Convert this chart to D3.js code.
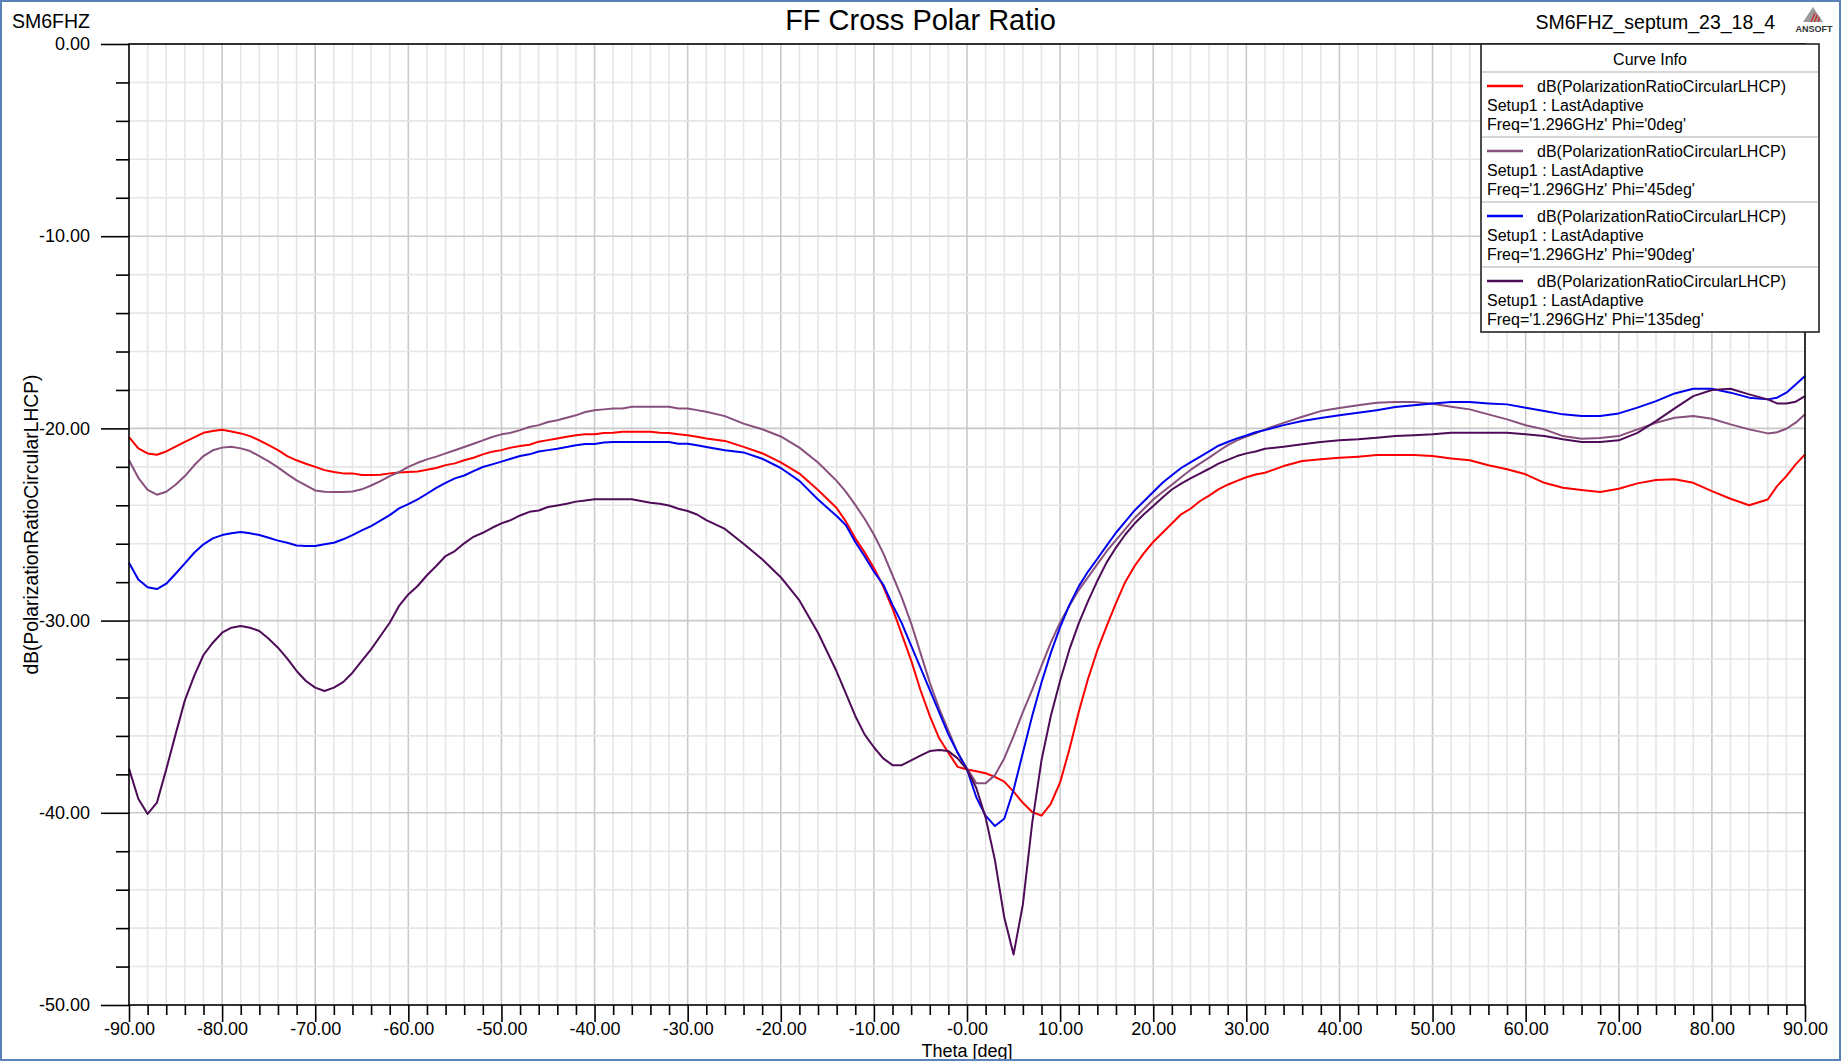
<!DOCTYPE html>
<html>
<head>
<meta charset="utf-8">
<script src="https://cdn.jsdelivr.net/npm/d3@7"></script>
<style>
  html, body { margin: 0; padding: 0; background: #ffffff; }
  svg { display: block; font-family: "Liberation Sans", Arial, sans-serif; }
</style>
</head>
<body>
<svg id="chart" width="1841" height="1061"></svg>
<script>
// ---------------- data ----------------
const chartTitle = "FF Cross Polar Ratio";
const leftNote = "SM6FHZ";
const rightNote = "SM6FHZ_septum_23_18_4";
const xAxisTitle = "Theta [deg]";
const yAxisTitle = "dB(PolarizationRatioCircularLHCP)";

const xTickValues = [-90, -80, -70, -60, -50, -40, -30, -20, -10, 0, 10, 20, 30, 40, 50, 60, 70, 80, 90];
const xTickLabels = ["-90.00", "-80.00", "-70.00", "-60.00", "-50.00", "-40.00", "-30.00", "-20.00", "-10.00", "-0.00",
                     "10.00", "20.00", "30.00", "40.00", "50.00", "60.00", "70.00", "80.00", "90.00"];
const yTickValues = [0, -10, -20, -30, -40, -50];
const yTickLabels = ["0.00", "-10.00", "-20.00", "-30.00", "-40.00", "-50.00"];

const thetaDeg = [
  -90,-89,-88,-87,-86,-85,-84,-83,-82,-81,
  -80,-79,-78,-77,-76,-75,-74,-73,-72,-71,
  -70,-69,-68,-67,-66,-65,-64,-63,-62,-61,
  -60,-59,-58,-57,-56,-55,-54,-53,-52,-51,
  -50,-49,-48,-47,-46,-45,-44,-43,-42,-41,
  -40,-39,-38,-37,-36,-35,-34,-33,-32,-31,
  -30,-29,-28,
  -26,-24,-22,-20,-18,-16,-14,
  -13,-12,-11,-10,-9,-8,-7,-6,-5,-4,
  -3,-2,-1,0,1,2,3,4,5,6,
  7,8,9,10,11,12,13,14,15,16,
  17,18,19,20,21,22,23,24,25,26,
  27,28,29,30,31,
  32,34,36,38,40,42,44,46,48,50,
  52,54,56,58,60,62,64,66,68,70,
  72,74,76,78,80,82,84,86,
  87,88,89,90
];

const phi0 = [
  -20.45,-21.04,-21.30,-21.37,-21.20,-20.95,-20.70,-20.47,-20.23,-20.14,
  -20.07,-20.16,-20.26,-20.40,-20.62,-20.87,-21.13,-21.44,-21.66,-21.84,
  -22.00,-22.17,-22.27,-22.34,-22.34,-22.43,-22.43,-22.41,-22.34,-22.30,
  -22.27,-22.24,-22.15,-22.06,-21.91,-21.82,-21.66,-21.53,-21.35,-21.21,
  -21.13,-21.00,-20.92,-20.85,-20.69,-20.61,-20.52,-20.43,-20.36,-20.31,
  -20.31,-20.24,-20.23,-20.17,-20.17,-20.17,-20.17,-20.23,-20.24,-20.31,
  -20.36,-20.43,-20.52,
  -20.65,-20.96,-21.29,-21.77,-22.35,-23.21,-24.14,
  -24.85,-25.72,-26.45,-27.26,-28.22,-29.37,-30.72,-32.07,-33.61,-34.96,
  -36.11,-36.88,-37.61,-37.75,-37.84,-37.94,-38.13,-38.38,-38.90,-39.48,
  -39.96,-40.15,-39.53,-38.42,-36.69,-34.76,-33.03,-31.54,-30.29,-29.09,
  -27.99,-27.16,-26.49,-25.91,-25.43,-24.95,-24.47,-24.18,-23.79,-23.50,
  -23.17,-22.93,-22.73,-22.54,-22.40,
  -22.31,-21.96,-21.70,-21.61,-21.53,-21.47,-21.39,-21.39,-21.39,-21.44,
  -21.56,-21.66,-21.92,-22.13,-22.39,-22.83,-23.09,-23.21,-23.31,-23.14,
  -22.86,-22.69,-22.65,-22.83,-23.26,-23.66,-24.00,-23.70,
  -23.00,-22.48,-21.87,-21.35
];

const phi45 = [
  -21.66,-22.57,-23.20,-23.45,-23.30,-22.93,-22.48,-21.92,-21.44,-21.14,
  -21.00,-20.95,-21.04,-21.18,-21.44,-21.72,-22.03,-22.38,-22.70,-22.97,
  -23.23,-23.30,-23.31,-23.31,-23.28,-23.17,-22.97,-22.74,-22.48,-22.27,
  -22.00,-21.79,-21.61,-21.47,-21.30,-21.14,-20.97,-20.80,-20.62,-20.45,
  -20.31,-20.23,-20.09,-19.93,-19.83,-19.67,-19.58,-19.45,-19.32,-19.15,
  -19.06,-19.01,-18.96,-18.96,-18.87,-18.87,-18.87,-18.87,-18.87,-18.96,
  -18.96,-19.05,-19.13,
  -19.36,-19.75,-20.04,-20.42,-21.00,-21.77,-22.73,
  -23.30,-23.98,-24.70,-25.52,-26.49,-27.64,-28.80,-30.14,-31.68,-33.22,
  -34.57,-35.73,-36.88,-37.69,-38.46,-38.46,-38.04,-37.17,-36.01,-34.76,
  -33.61,-32.36,-31.15,-30.10,-29.23,-28.41,-27.74,-27.06,-26.39,-25.81,
  -25.24,-24.66,-24.18,-23.70,-23.31,-22.93,-22.54,-22.16,-21.83,-21.52,
  -21.19,-20.87,-20.62,-20.42,-20.25,
  -20.05,-19.71,-19.39,-19.10,-18.94,-18.80,-18.66,-18.63,-18.63,-18.72,
  -18.87,-19.01,-19.27,-19.53,-19.84,-20.05,-20.40,-20.54,-20.50,-20.40,
  -20.05,-19.71,-19.45,-19.36,-19.50,-19.79,-20.05,-20.26,
  -20.20,-20.02,-19.70,-19.27
];

const phi90 = [
  -26.99,-27.86,-28.27,-28.36,-28.08,-27.56,-27.02,-26.47,-26.03,-25.72,
  -25.55,-25.46,-25.39,-25.46,-25.55,-25.69,-25.84,-25.95,-26.09,-26.12,
  -26.12,-26.03,-25.95,-25.77,-25.55,-25.31,-25.08,-24.80,-24.51,-24.16,
  -23.94,-23.69,-23.40,-23.09,-22.83,-22.60,-22.45,-22.22,-22.01,-21.87,
  -21.73,-21.58,-21.44,-21.35,-21.20,-21.13,-21.06,-20.97,-20.88,-20.81,
  -20.81,-20.73,-20.71,-20.71,-20.71,-20.71,-20.71,-20.71,-20.71,-20.80,
  -20.80,-20.88,-20.97,
  -21.14,-21.25,-21.58,-22.06,-22.73,-23.70,-24.56,
  -25.04,-25.91,-26.65,-27.45,-28.12,-29.18,-30.14,-31.30,-32.45,-33.61,
  -34.76,-35.92,-36.88,-37.75,-39.19,-40.15,-40.69,-40.31,-38.81,-36.88,
  -34.96,-33.22,-31.68,-30.34,-29.18,-28.22,-27.45,-26.78,-26.10,-25.43,
  -24.85,-24.27,-23.79,-23.31,-22.83,-22.44,-22.06,-21.77,-21.48,-21.19,
  -20.90,-20.71,-20.52,-20.37,-20.20,
  -20.09,-19.83,-19.62,-19.46,-19.32,-19.19,-19.05,-18.89,-18.79,-18.70,
  -18.63,-18.63,-18.70,-18.75,-18.92,-19.10,-19.27,-19.36,-19.36,-19.22,
  -18.92,-18.58,-18.18,-17.94,-17.94,-18.14,-18.40,-18.49,
  -18.40,-18.14,-17.71,-17.28
];

const phi135 = [
  -37.70,-39.27,-40.06,-39.47,-37.74,-35.92,-34.15,-32.88,-31.79,-31.15,
  -30.63,-30.37,-30.28,-30.37,-30.54,-30.94,-31.41,-31.98,-32.62,-33.14,
  -33.49,-33.66,-33.49,-33.20,-32.71,-32.10,-31.50,-30.80,-30.11,-29.24,
  -28.64,-28.20,-27.64,-27.16,-26.64,-26.38,-25.98,-25.64,-25.43,-25.17,
  -24.94,-24.77,-24.53,-24.34,-24.27,-24.09,-24.01,-23.92,-23.81,-23.75,
  -23.69,-23.69,-23.69,-23.69,-23.69,-23.78,-23.87,-23.92,-24.01,-24.18,
  -24.30,-24.48,-24.77,
  -25.23,-26.00,-26.81,-27.74,-28.95,-30.63,-32.65,
  -33.80,-34.96,-35.92,-36.59,-37.17,-37.52,-37.52,-37.27,-37.03,-36.79,
  -36.73,-36.79,-37.17,-37.75,-38.71,-40.25,-42.46,-45.44,-47.37,-44.77,
  -40.54,-37.27,-34.96,-33.13,-31.50,-30.14,-28.99,-27.93,-26.97,-26.20,
  -25.52,-24.95,-24.47,-24.04,-23.60,-23.18,-22.87,-22.60,-22.35,-22.10,
  -21.83,-21.64,-21.44,-21.30,-21.20,
  -21.06,-20.95,-20.83,-20.71,-20.62,-20.57,-20.49,-20.40,-20.35,-20.31,
  -20.23,-20.23,-20.23,-20.23,-20.31,-20.40,-20.57,-20.71,-20.71,-20.62,
  -20.23,-19.62,-18.96,-18.32,-18.00,-17.94,-18.23,-18.49,
  -18.70,-18.70,-18.61,-18.32
];

const seriesNames = ["dB(PolarizationRatioCircularLHCP)", "dB(PolarizationRatioCircularLHCP)",
                     "dB(PolarizationRatioCircularLHCP)", "dB(PolarizationRatioCircularLHCP)"];
const seriesSetup = ["Setup1 : LastAdaptive", "Setup1 : LastAdaptive", "Setup1 : LastAdaptive", "Setup1 : LastAdaptive"];
const seriesFreq = ["Freq='1.296GHz' Phi='0deg'", "Freq='1.296GHz' Phi='45deg'",
                    "Freq='1.296GHz' Phi='90deg'", "Freq='1.296GHz' Phi='135deg'"];
const seriesValues = [phi0, phi45, phi90, phi135];
const seriesColors = ["#ff0000", "#88507c", "#0000f0", "#4e0c58"];

// ---------------- layout ----------------
const W = 1841, H = 1061;
const plot = { left: 129, right: 1805, top: 44, bottom: 1005 };
const FONT = "'Liberation Sans', Arial, sans-serif";

const svg = d3.select("#chart");
svg.append("rect").attr("x", 0).attr("y", 0).attr("width", W).attr("height", H).attr("fill", "#ffffff");

const x = d3.scaleLinear().domain([-90, 90]).range([plot.left, plot.right]);
const y = d3.scaleLinear().domain([-50, 0]).range([plot.bottom, plot.top]);

// grid
const gGrid = svg.append("g");
const xMinor = d3.range(-88, 90, 2);
const yMinor = d3.range(-48, 0, 2);
gGrid.selectAll("line.vx").data(xMinor).join("line")
  .attr("x1", d => x(d)).attr("x2", d => x(d))
  .attr("y1", plot.top).attr("y2", plot.bottom)
  .attr("stroke", d => d % 10 === 0 ? "#c9c9c9" : "#e6e6e6")
  .attr("stroke-width", 1.6);
gGrid.selectAll("line.hy").data(yMinor).join("line")
  .attr("y1", d => y(d)).attr("y2", d => y(d))
  .attr("x1", plot.left).attr("x2", plot.right)
  .attr("stroke", d => d % 10 === 0 ? "#c9c9c9" : "#e6e6e6")
  .attr("stroke-width", 1.6);

// curves
const line = d3.line().x((d, i) => x(thetaDeg[i])).y(d => y(d));
const gLines = svg.append("g");
seriesValues.forEach((vals, k) => {
  gLines.append("path").datum(vals)
    .attr("d", line)
    .attr("fill", "none")
    .attr("stroke", seriesColors[k])
    .attr("stroke-width", 2)
    .attr("stroke-linejoin", "round");
});

// frame
svg.append("rect")
  .attr("x", plot.left).attr("y", plot.top)
  .attr("width", plot.right - plot.left).attr("height", plot.bottom - plot.top)
  .attr("fill", "none").attr("stroke", "#000").attr("stroke-width", 1.6);

// axes
const axisLeftMajor = d3.axisLeft(y).tickValues(yTickValues)
  .tickFormat((d, i) => yTickLabels[i]).tickSize(28).tickPadding(11);
const axisLeftMinor = d3.axisLeft(y).tickValues(yMinor.filter(d => d % 10 !== 0))
  .tickFormat("").tickSize(13);
const axisBottomMajor = d3.axisBottom(x).tickValues(xTickValues)
  .tickFormat((d, i) => xTickLabels[i]).tickSize(17).tickPadding(0);
const axisBottomMinor = d3.axisBottom(x).tickValues(xMinor.filter(d => d % 10 !== 0))
  .tickFormat("").tickSize(10);

function styleAxis(g) {
  g.select(".domain").remove();
  g.selectAll(".tick line").attr("stroke", "#000").attr("stroke-width", 1.6);
  g.selectAll(".tick text").attr("fill", "#000").style("font-family", FONT).style("font-size", "18px");
}
svg.append("g").attr("transform", `translate(${plot.left},0)`).call(axisLeftMajor).call(styleAxis);
svg.append("g").attr("transform", `translate(${plot.left},0)`).call(axisLeftMinor).call(styleAxis);
svg.append("g").attr("transform", `translate(0,${plot.bottom})`).call(axisBottomMajor).call(styleAxis);
svg.append("g").attr("transform", `translate(0,${plot.bottom})`).call(axisBottomMinor).call(styleAxis);

// texts
svg.append("text").attr("x", W / 2).attr("y", 30).attr("text-anchor", "middle")
  .style("font-family", FONT).style("font-size", "29px").attr("fill", "#000").text(chartTitle);
svg.append("text").attr("x", 12).attr("y", 28)
  .style("font-family", FONT).style("font-size", "19.5px").attr("fill", "#000").text(leftNote);
svg.append("text").attr("x", 1775).attr("y", 29).attr("text-anchor", "end")
  .style("font-family", FONT).style("font-size", "19.5px").attr("fill", "#000").text(rightNote);
svg.append("text").attr("x", (plot.left + plot.right) / 2).attr("y", 1057).attr("text-anchor", "middle")
  .style("font-family", FONT).style("font-size", "18px").attr("fill", "#000").text(xAxisTitle);
svg.append("text").attr("transform", `translate(38,${(plot.top + plot.bottom) / 2}) rotate(-90)`)
  .attr("text-anchor", "middle")
  .style("font-family", FONT).style("font-size", "19.3px").attr("fill", "#000").text(yAxisTitle);

// ANSOFT logo
const logo = svg.append("g");
logo.append("polygon").attr("points", "1803,22 1813,7 1823,22").attr("fill", "#9a9a9a");
[0, 1, 2].forEach(i => {
  logo.append("line")
    .attr("x1", 1811 + i * 3.5).attr("y1", 22)
    .attr("x2", 1815 + i * 2.2).attr("y2", 13 + i * 2)
    .attr("stroke", "#d42020").attr("stroke-width", 1.2);
});
logo.append("text").attr("x", 1814).attr("y", 32).attr("text-anchor", "middle")
  .attr("textLength", 37).attr("lengthAdjust", "spacingAndGlyphs")
  .style("font-family", FONT).style("font-size", "9.5px").style("font-weight", "bold")
  .attr("fill", "#333").text("ANSOFT");

// legend
const leg = { x: 1481, y: 44, w: 338, head: 28, row: 65 };
const gLeg = svg.append("g");
gLeg.append("rect").attr("x", leg.x).attr("y", leg.y).attr("width", leg.w)
  .attr("height", leg.head + leg.row * seriesValues.length)
  .attr("fill", "#fff").attr("stroke", "#222").attr("stroke-width", 1.6);
gLeg.append("text").attr("x", leg.x + leg.w / 2).attr("y", leg.y + 21).attr("text-anchor", "middle")
  .style("font-family", FONT).style("font-size", "16px").attr("fill", "#000").text("Curve Info");
seriesValues.forEach((vals, k) => {
  const top = leg.y + leg.head + k * leg.row;
  gLeg.append("line").attr("x1", leg.x + 1).attr("x2", leg.x + leg.w - 1)
    .attr("y1", top).attr("y2", top).attr("stroke", "#c8c8c8").attr("stroke-width", 1.6);
  gLeg.append("line").attr("x1", leg.x + 6).attr("x2", leg.x + 42)
    .attr("y1", top + 14).attr("y2", top + 14)
    .attr("stroke", seriesColors[k]).attr("stroke-width", 2.5);
  gLeg.append("text").attr("x", leg.x + 56).attr("y", top + 20)
    .style("font-family", FONT).style("font-size", "16px").attr("fill", "#000").text(seriesNames[k]);
  gLeg.append("text").attr("x", leg.x + 6).attr("y", top + 39)
    .style("font-family", FONT).style("font-size", "16px").attr("fill", "#000").text(seriesSetup[k]);
  gLeg.append("text").attr("x", leg.x + 6).attr("y", top + 58)
    .style("font-family", FONT).style("font-size", "16px").attr("fill", "#000").text(seriesFreq[k]);
});

// window border
svg.append("rect").attr("x", 1).attr("y", 1).attr("width", W - 2).attr("height", H - 2)
  .attr("fill", "none").attr("stroke", "#5a82b8").attr("stroke-width", 2);
</script>
</body>
</html>
